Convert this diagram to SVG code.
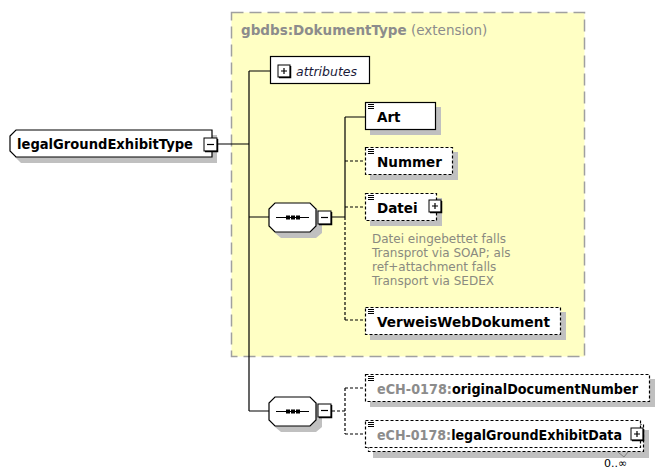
<svg xmlns="http://www.w3.org/2000/svg" width="655" height="470" viewBox="0 0 655 470">
<style>
.shadow{fill:#c0c0c0;stroke:none}
.box{fill:#ffffff;stroke:#000;stroke-width:1.2}
.opt{fill:#ffffff;stroke:#000;stroke-width:1.2;stroke-dasharray:3,2}
.ln{stroke:#000;stroke-width:1.2;fill:none}
.dl{stroke:#000;stroke-width:1.2;fill:none;stroke-dasharray:3,2}
.name{font-family:"DejaVu Sans",sans-serif;font-weight:bold;font-size:13.5px;fill:#000}
.ns{fill:#8c8c8c}
.ann{font-family:"DejaVu Sans",sans-serif;font-size:12px;fill:#8a8a80}
</style>
<defs>
<g id="plus"><rect x="0" y="0" width="12" height="12" fill="#fff" stroke="#000" stroke-width="1"/><path d="M1,12.5H12.5V1" stroke="#000" stroke-width="1.5" fill="none"/><path d="M3,6H9M6,3V9" stroke="#000" stroke-width="1.2"/></g>
<g id="minus"><rect x="0" y="0" width="13" height="13" fill="#fff" stroke="#000" stroke-width="1"/><path d="M1,13.5H13.5V1" stroke="#000" stroke-width="1.5" fill="none"/><path d="M3,6.5H10" stroke="#000" stroke-width="1.2"/></g>
<g id="doc"><path d="M0,0.5H6M0,2.5H6M0,4.5H6" stroke="#000" stroke-width="1"/></g>
<g id="seq"><polygon class="shadow" points="12,5 47,5 53,11 53,30 47,35 12,35 6,30 6,11"/><polygon points="6,0 41,0 47,6 47,23 41,29 6,29 0,23 0,6" fill="#fff" stroke="#000" stroke-width="1.2"/><path d="M7,14.5H40" stroke="#000" stroke-width="1.2"/><rect x="17" y="12.5" width="4" height="4" fill="#000"/><rect x="22" y="12.5" width="4" height="4" fill="#000"/><rect x="27" y="12.5" width="4" height="4" fill="#000"/></g>
</defs>

<g id="extension">
<rect x="231.5" y="12.5" width="353" height="344" fill="#ffffc4" stroke="#a0a0a0" stroke-width="1.5" stroke-dasharray="12,6"/>
<text x="241" y="35" font-family="DejaVu Sans,sans-serif" font-size="13.5px" fill="#8c8c8c"><tspan font-weight="bold">gbdbs:DokumentType</tspan> (extension)</text>
</g>

<g id="connectors">
<path class="ln" d="M217,144H249M249,71V411M249,71H270M249,217H269M249,411H269"/>
<path class="ln" d="M332,217H345M345,117V217M345,117H365"/>
<path class="dl" d="M345,217V320M345,161H365M345,207H365M345,320H365"/>
<path class="dl" d="M332,411H345M345,388V434M345,388H365M345,434H365"/>
</g>

<g id="legalGroundExhibitType">
<polygon class="shadow" points="21,135 217,135 217,163 21,163 15,157 15,141"/>
<polygon class="box" points="16,130 212,130 212,157 16,157 10,151 10,136"/>
<text class="name" x="17" y="149" textLength="176" lengthAdjust="spacingAndGlyphs">legalGroundExhibitType</text>
<use href="#minus" x="204" y="138"/>
</g>

<g id="attributes">
<rect class="box" x="270.5" y="56.5" width="99" height="27"/>
<use href="#plus" x="278" y="65"/>
<text x="296" y="76" font-family="DejaVu Sans,sans-serif" font-style="italic" font-size="12.5px" fill="#1a1a3a">attributes</text>
</g>

<g id="sequence1">
<use href="#seq" x="269" y="203"/>
<use href="#minus" x="318" y="211"/>
</g>

<g id="Art">
<rect class="shadow" x="370" y="107" width="71" height="28"/>
<rect class="box" x="365.5" y="102.5" width="70" height="27"/>
<use href="#doc" x="368" y="104"/>
<text class="name" x="377" y="122">Art</text>
</g>

<g id="Nummer">
<rect class="shadow" x="370" y="152" width="88" height="28"/>
<rect class="opt" x="365.5" y="147.5" width="87" height="27"/>
<use href="#doc" x="368" y="149"/>
<text class="name" x="377" y="167">Nummer</text>
</g>

<g id="Datei">
<rect class="shadow" x="370" y="198" width="72" height="28"/>
<rect class="opt" x="365.5" y="193.5" width="71" height="27"/>
<use href="#doc" x="368" y="195"/>
<text class="name" x="377" y="213">Datei</text>
<use href="#plus" x="429" y="200"/>
<text class="ann" x="372" y="243">Datei eingebettet falls</text>
<text class="ann" x="372" y="257">Transprot via SOAP; als</text>
<text class="ann" x="372" y="271">ref+attachment falls</text>
<text class="ann" x="372" y="285">Transport via SEDEX</text>
</g>

<g id="VerweisWebDokument">
<rect class="shadow" x="370" y="312" width="196" height="28"/>
<rect class="opt" x="365.5" y="307.5" width="195" height="27"/>
<use href="#doc" x="368" y="309"/>
<text class="name" x="377" y="327" textLength="173" lengthAdjust="spacingAndGlyphs">VerweisWebDokument</text>
</g>

<g id="sequence2">
<use href="#seq" x="269" y="397"/>
<use href="#minus" x="318" y="404"/>
</g>

<g id="originalDocumentNumber">
<rect class="shadow" x="370" y="379" width="285" height="28"/>
<rect class="opt" x="365.5" y="374.5" width="284" height="27"/>
<use href="#doc" x="368" y="376"/>
<text class="name" x="377" y="394" textLength="261" lengthAdjust="spacingAndGlyphs"><tspan class="ns">eCH-0178:</tspan>originalDocumentNumber</text>
</g>

<g id="legalGroundExhibitData">
<rect class="shadow" x="373" y="430" width="276" height="28"/>
<rect class="opt" x="368.5" y="424.5" width="275" height="27"/>
<rect class="opt" x="365.5" y="420.5" width="275" height="27"/>
<use href="#doc" x="368" y="422"/>
<text class="name" x="377" y="440" textLength="245" lengthAdjust="spacingAndGlyphs"><tspan class="ns">eCH-0178:</tspan>legalGroundExhibitData</text>
<use href="#plus" x="631" y="428"/>
<path d="M618,452L624,457L628,452" stroke="#808080" stroke-width="1" fill="none"/>
<text x="604" y="467" font-family="DejaVu Sans,sans-serif" font-size="11px" fill="#000">0..∞</text>
</g>
</svg>
